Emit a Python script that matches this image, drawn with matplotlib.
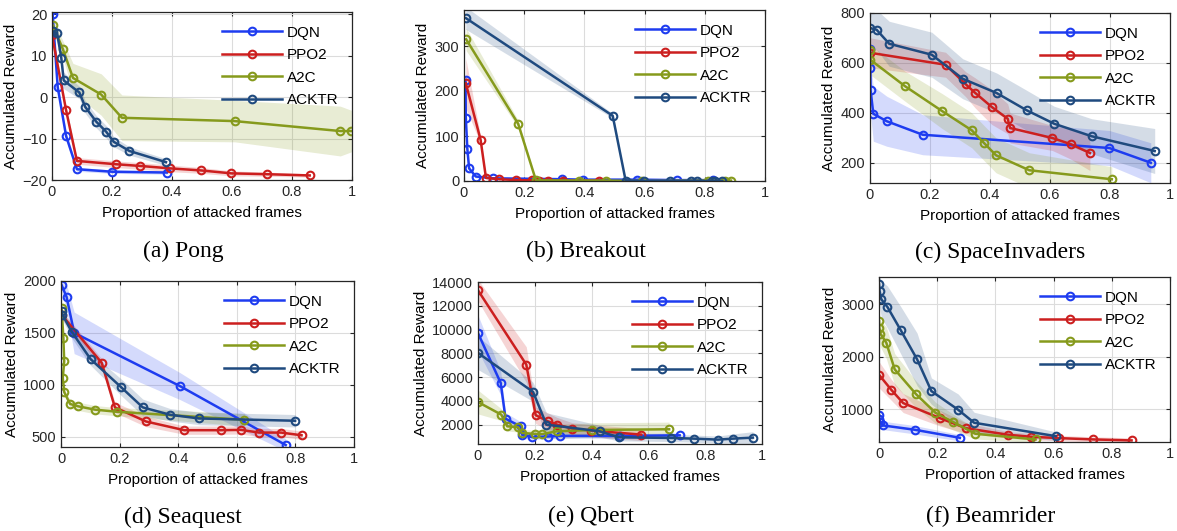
import numpy as np
import matplotlib.pyplot as plt

plt.rcParams['font.family'] = ['Liberation Sans', 'DejaVu Sans']

# =====================================================
# Data (x = proportion, y = reward, sd = band half width)
# =====================================================

# ---- (a) Pong ----
pong_dqn_x = [0.0, 0.002, 0.019, 0.047, 0.083, 0.2, 0.383]
pong_dqn_y = [21, 20, 2.4, -9.4, -17.4, -18, -18.2]
pong_dqn_sd = [0.5, 0.5, 1, 1, 0.5, 0.4, 0.4]
pong_ppo_x = [0.0, 0.047, 0.083, 0.213, 0.292, 0.394, 0.498, 0.598, 0.717, 0.859]
pong_ppo_y = [15, -3.2, -15.4, -16.2, -16.6, -17.2, -17.7, -18.4, -18.6, -18.9]
pong_ppo_sd = [1, 1, 0.8, 0.8, 0.8, 0.8, 0.7, 0.6, 0.5, 0.4]
pong_a2c_x = [0.002, 0.036, 0.07, 0.164, 0.233, 0.609, 0.961, 0.998]
pong_a2c_y = [17.4, 11.6, 4.6, 0.6, -5, -5.8, -8.2, -8.2]
pong_a2c_sd = [1.5, 2, 3.5, 5, 5.5, 5, 6, 5]
pong_ack_x = [0.002, 0.017, 0.031, 0.039, 0.091, 0.111, 0.147, 0.181, 0.206, 0.258, 0.38]
pong_ack_y = [15.8, 15.4, 9.4, 4, 1.1, -2.4, -5.9, -8.4, -10.8, -13, -15.7]
pong_ack_sd = [1, 1, 1.5, 2, 1.5, 1.5, 1.5, 1.5, 1.2, 1, 0.8]

# ---- (b) Breakout ----
brk_dqn_x = [0.005, 0.006, 0.011, 0.017, 0.039, 0.097, 0.327, 0.394, 0.574, 0.709, 0.826]
brk_dqn_y = [225, 141, 72, 28, 10, 6, 4, 3, 3, 2, 2]
brk_dqn_sd = [15, 15, 10, 5, 3, 2, 1, 1, 1, 1, 1]
brk_ppo_x = [0.006, 0.055, 0.073, 0.117, 0.173, 0.225, 0.249, 0.278, 0.33, 0.449]
brk_ppo_y = [217, 92, 7, 4, 2, 1.5, 1, 1, 1, 1]
brk_ppo_sd = [55, 8, 3, 2, 1, 1, 1, 1, 1, 1]
brk_a2c_x = [0.007, 0.18, 0.239, 0.382, 0.472, 0.592, 0.812, 0.867, 0.887]
brk_a2c_y = [315, 127, 1.5, 1, 1, 0, 1, 1, 1]
brk_a2c_sd = [25, 8, 1, 1, 1, 1, 1, 1, 1]
brk_ack_x = [0.006, 0.494, 0.537, 0.599, 0.684, 0.753, 0.773, 0.823, 0.834, 0.858]
brk_ack_y = [362, 145, 1, 0, 0, 0, 0, 0, 0, 0]
brk_ack_sd = [25, 5, 1, 1, 1, 1, 1, 1, 1, 1]

# ---- (c) SpaceInvaders ----
spi_dqn_x = [0.0, 0.001, 0.002, 0.011, 0.056, 0.176, 0.798, 0.936]
spi_dqn_y = [657, 580, 491, 397, 367, 313, 260, 201]
spi_dqn_sd = [60, 80, 100, 110, 100, 80, 70, 80]
spi_ppo_x = [0.0, 0.252, 0.319, 0.35, 0.406, 0.459, 0.467, 0.608, 0.67, 0.733]
spi_ppo_y = [641, 593, 515, 481, 424, 377, 340, 300, 275, 240]
spi_ppo_sd = [60, 50, 50, 60, 70, 60, 60, 50, 60, 70]
spi_a2c_x = [0.0, 0.001, 0.117, 0.24, 0.339, 0.38, 0.42, 0.531, 0.806]
spi_a2c_y = [653, 613, 507, 408, 331, 280, 231, 171, 135]
spi_a2c_sd = [50, 60, 60, 70, 70, 70, 70, 70, 50]
spi_ack_x = [0.0, 0.022, 0.064, 0.206, 0.309, 0.422, 0.522, 0.614, 0.739, 0.949]
spi_ack_y = [740, 733, 677, 633, 537, 480, 411, 357, 307, 248]
spi_ack_sd = [70, 80, 90, 90, 80, 80, 80, 70, 70, 90]

# ---- (d) Seaquest ----
sea_dqn_x = [0.002, 0.019, 0.045, 0.406, 0.767]
sea_dqn_y = [1961, 1847, 1500, 987, 419]
sea_dqn_sd = [60, 120, 200, 130, 60]
sea_ppo_x = [0.002, 0.139, 0.184, 0.29, 0.421, 0.545, 0.614, 0.676, 0.751, 0.821]
sea_ppo_y = [1675, 1211, 782, 646, 562, 562, 565, 539, 539, 513]
sea_ppo_sd = [40, 40, 50, 50, 40, 40, 40, 40, 40, 40]
sea_a2c_x = [0.002, 0.008, 0.011, 0.006, 0.011, 0.031, 0.059, 0.116, 0.19, 0.626]
sea_a2c_y = [1740, 1455, 1227, 1065, 929, 815, 792, 760, 740, 662]
sea_a2c_sd = [30, 30, 30, 30, 30, 40, 40, 40, 40, 60]
sea_ack_x = [0.002, 0.005, 0.036, 0.101, 0.205, 0.279, 0.372, 0.471, 0.799]
sea_ack_y = [1708, 1675, 1513, 1247, 977, 782, 711, 675, 653]
sea_ack_sd = [40, 50, 60, 60, 80, 80, 60, 60, 60]

# ---- (e) Qbert ----
qb_dqn_x = [0.0, 0.08, 0.097, 0.15, 0.155, 0.19, 0.245, 0.29, 0.5, 0.71]
qb_dqn_y = [9700, 5500, 2500, 1850, 1150, 950, 1000, 1050, 1050, 1100]
qb_dqn_sd = [1500, 1000, 500, 400, 300, 200, 200, 200, 200, 200]
qb_ppo_x = [0.0, 0.17, 0.203, 0.246, 0.279, 0.332, 0.399, 0.575]
qb_ppo_y = [13300, 7050, 2800, 2280, 2000, 1660, 1500, 1160]
qb_ppo_sd = [900, 1500, 700, 700, 600, 500, 500, 500]
qb_a2c_x = [0.0, 0.082, 0.103, 0.141, 0.155, 0.202, 0.227, 0.279, 0.403, 0.673]
qb_a2c_y = [3900, 2840, 1860, 1780, 1300, 1215, 1215, 1440, 1550, 1610]
qb_a2c_sd = [1000, 500, 400, 400, 300, 300, 400, 600, 600, 600]
qb_ack_x = [0.0, 0.194, 0.241, 0.428, 0.496, 0.678, 0.761, 0.845, 0.898, 0.968]
qb_ack_y = [8030, 4750, 2000, 1440, 934, 878, 822, 738, 822, 906]
qb_ack_sd = [1400, 800, 1000, 500, 300, 300, 300, 300, 400, 500]

# ---- (f) Beamrider ----
bm_dqn_x = [0.0, 0.001, 0.005, 0.014, 0.123, 0.278]
bm_dqn_y = [898, 822, 759, 695, 613, 460]
bm_dqn_sd = [80, 80, 80, 80, 80, 60]
bm_ppo_x = [0.0, 0.042, 0.083, 0.209, 0.298, 0.444, 0.524, 0.619, 0.736, 0.868]
bm_ppo_y = [1660, 1375, 1121, 835, 644, 517, 479, 454, 429, 410]
bm_ppo_sd = [250, 200, 180, 150, 100, 60, 60, 50, 50, 50]
bm_a2c_x = [0.0, 0.001, 0.005, 0.025, 0.054, 0.128, 0.194, 0.255, 0.331, 0.538]
bm_a2c_y = [2683, 2556, 2441, 2270, 1762, 1286, 937, 759, 537, 429]
bm_a2c_sd = [250, 250, 250, 300, 300, 250, 200, 150, 100, 60]
bm_ack_x = [0.0, 0.002, 0.008, 0.029, 0.075, 0.131, 0.18, 0.272, 0.327, 0.607]
bm_ack_y = [3381, 3254, 3095, 2949, 2505, 1952, 1349, 994, 746, 492]
bm_ack_sd = [300, 300, 350, 400, 450, 500, 250, 300, 200, 80]

methods = ['DQN', 'PPO2', 'A2C', 'ACKTR']
colors = ['#1e3cf0', '#cc1f1f', '#869a1c', '#1f4a7f']

captions = ['(a) Pong', '(b) Breakout', '(c) SpaceInvaders',
            '(d) Seaquest', '(e) Qbert', '(f) Beamrider']

games = [
    [(pong_dqn_x, pong_dqn_y, pong_dqn_sd), (pong_ppo_x, pong_ppo_y, pong_ppo_sd),
     (pong_a2c_x, pong_a2c_y, pong_a2c_sd), (pong_ack_x, pong_ack_y, pong_ack_sd)],
    [(brk_dqn_x, brk_dqn_y, brk_dqn_sd), (brk_ppo_x, brk_ppo_y, brk_ppo_sd),
     (brk_a2c_x, brk_a2c_y, brk_a2c_sd), (brk_ack_x, brk_ack_y, brk_ack_sd)],
    [(spi_dqn_x, spi_dqn_y, spi_dqn_sd), (spi_ppo_x, spi_ppo_y, spi_ppo_sd),
     (spi_a2c_x, spi_a2c_y, spi_a2c_sd), (spi_ack_x, spi_ack_y, spi_ack_sd)],
    [(sea_dqn_x, sea_dqn_y, sea_dqn_sd), (sea_ppo_x, sea_ppo_y, sea_ppo_sd),
     (sea_a2c_x, sea_a2c_y, sea_a2c_sd), (sea_ack_x, sea_ack_y, sea_ack_sd)],
    [(qb_dqn_x, qb_dqn_y, qb_dqn_sd), (qb_ppo_x, qb_ppo_y, qb_ppo_sd),
     (qb_a2c_x, qb_a2c_y, qb_a2c_sd), (qb_ack_x, qb_ack_y, qb_ack_sd)],
    [(bm_dqn_x, bm_dqn_y, bm_dqn_sd), (bm_ppo_x, bm_ppo_y, bm_ppo_sd),
     (bm_a2c_x, bm_a2c_y, bm_a2c_sd), (bm_ack_x, bm_ack_y, bm_ack_sd)],
]

ylims = [(-20, 20.5), (0, 380), (120, 800), (400, 2000), (370, 14000), (380, 3520)]
yticks = [[-20, -10, 0, 10, 20], [0, 100, 200, 300], [200, 400, 600, 800],
          [500, 1000, 1500, 2000], list(range(2000, 14001, 2000)), [1000, 2000, 3000]]

# axes boxes in pixels (left, top, right, bottom) of a 1177x531 figure
W, H = 1177, 531
boxes = [(52, 12, 352, 180), (464, 10, 765, 181), (870, 13, 1170, 183),
         (61, 281, 354, 447), (478, 282, 762, 444), (879, 277, 1170, 442)]
cap_pos = [(183, 251), (586, 251), (1000, 252), (183, 517), (591, 516), (991, 516)]

fig = plt.figure(figsize=(W/100, H/100), dpi=100)

for i in range(6):
    l, t, r, b = boxes[i]
    ax = fig.add_axes([l/W, 1 - b/H, (r-l)/W, (b-t)/H])

    for (xs, ys, sd), name, c in zip(games[i], methods, colors):
        xs = np.array(xs); ys = np.array(ys); sd = np.array(sd)
        ax.fill_between(xs, ys - sd, ys + sd, color=c, alpha=0.19, lw=0)
        ax.plot(xs, ys, '-o', color=c, lw=1.8, ms=5.5, mfc='none', mew=1.5,
                label=name)

    ax.set_xlim(0, 1)
    ax.set_ylim(*ylims[i])
    ax.set_xticks([0, 0.2, 0.4, 0.6, 0.8, 1])
    ax.set_xticklabels(['0', '0.2', '0.4', '0.6', '0.8', '1'])
    ax.set_yticks(yticks[i])
    ax.tick_params(direction='in', top=True, right=True, labelsize=10.5,
                   length=3, colors='#262626')
    for s in ax.spines.values():
        s.set_color('#262626')
        s.set_linewidth(0.9)
    ax.grid(True, color='#dcdcdc', lw=0.8)
    ax.set_axisbelow(True)
    ax.set_xlabel('Proportion of attacked frames', fontsize=11, labelpad=5)
    ax.set_ylabel('Accumulated Reward', fontsize=11, labelpad=3)
    ax.legend(loc='upper right', frameon=False, fontsize=11, handlelength=3.9,
              handletextpad=0.3, labelspacing=0.55, borderaxespad=0.5)

    fig.text(cap_pos[i][0]/W, 1 - cap_pos[i][1]/H, captions[i],
             family='Liberation Serif', fontsize=17, ha='center', va='center')

fig.savefig('out.png', dpi=100)
